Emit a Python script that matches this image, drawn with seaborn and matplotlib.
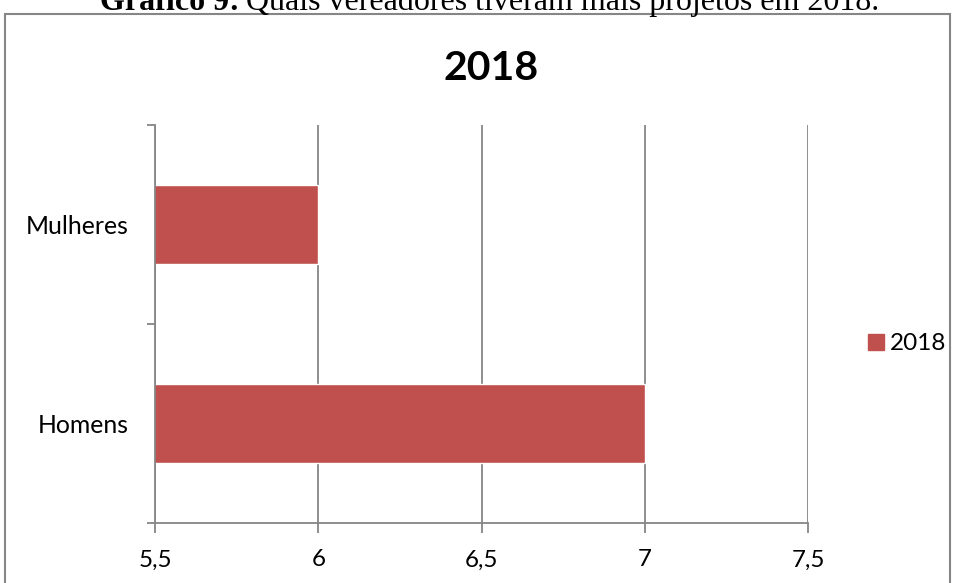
import matplotlib
matplotlib.use("Agg")
import matplotlib.pyplot as plt
import matplotlib.patches as mpatches
import seaborn as sns
import pandas as pd

# Data
categorias = ["Mulheres", "Homens"]
projetos = [6, 7]
serie = "2018"
x_ticks = [5.5, 6, 6.5, 7, 7.5]
x_tick_labels = ["5,5", "6", "6,5", "7", "7,5"]

sns.set_theme(style="white")
plt.rcParams["font.family"] = ["Lato", "DejaVu Sans"]
plt.rcParams["text.color"] = "black"

W, H = 956, 583
fig = plt.figure(figsize=(W / 100, H / 100), dpi=100)
fig.patch.set_facecolor("white")

grid_gray = "#868686"
bar_red = "#C0504D"

# Outer frame of the chart
frame = mpatches.Rectangle((5 / W, -0.05), 945 / W, 1 - 14 / H + 0.05,
                           transform=fig.transFigure, fill=False,
                           edgecolor=grid_gray, lw=1.5)
fig.add_artist(frame)

# Figure caption above the frame: bold lead followed by regular text
cap_y = 1 - 10 / H
cap_bold = fig.text(100 / W, cap_y, "Gráfico 9:", family="Liberation Serif",
                    fontweight="bold", fontsize=23, va="baseline", ha="left",
                    color="black")
renderer = fig.canvas.get_renderer()
bb = cap_bold.get_window_extent(renderer=renderer)
fig.text((bb.x1 + 6) / W, cap_y, "Quais vereadores tiveram mais projetos em 2018.",
         family="Liberation Serif", fontsize=23, va="baseline", ha="left",
         color="black")

ax = fig.add_axes([155 / W, 1 - 523 / H, (808 - 155) / W, (523 - 125) / H])

df = pd.DataFrame({"categoria": categorias, "projetos": projetos})
sns.barplot(data=df, x="projetos", y="categoria", orient="h", width=0.4,
            color=bar_red, saturation=1, ax=ax)

ax.set_xlim(5.5, 7.5)
ax.set_ylim(1.5, -0.5)
ax.set_xticks(x_ticks)
ax.set_xticklabels(x_tick_labels)
ax.set_xlabel("")
ax.set_ylabel("")

ax.set_yticks([-0.5, 0.5, 1.5], minor=True)
ax.tick_params(axis="y", which="major", length=0, pad=19, labelsize=17.8,
               labelcolor="black")
ax.tick_params(axis="y", which="minor", left=True, length=6, width=1.3,
               color=grid_gray, direction="out")
ax.tick_params(axis="x", which="major", bottom=True, length=7, width=1.3,
               color=grid_gray, direction="out", pad=12, labelsize=17.5,
               labelcolor="black")

ax.xaxis.grid(True, color=grid_gray, lw=1.3)
ax.set_axisbelow(True)
for s in ["top", "right"]:
    ax.spines[s].set_visible(False)
for s in ["left", "bottom"]:
    ax.spines[s].set_color(grid_gray)
    ax.spines[s].set_linewidth(1.3)

fig.text(491 / W, 1 - 68 / H, "2018", fontsize=29.5, fontweight="bold",
         ha="center", va="center", color="black")

handle = mpatches.Patch(color=bar_red, label=serie)
leg = fig.legend(handles=[handle], loc="center left",
                 bbox_to_anchor=(868 / W, 1 - 344 / H), frameon=False,
                 fontsize=17.5, handlelength=0.65, handleheight=0.65,
                 handletextpad=0.25, borderpad=0, borderaxespad=0)
for t in leg.get_texts():
    t.set_color("black")

fig.savefig("out.png", dpi=100, facecolor="white")
